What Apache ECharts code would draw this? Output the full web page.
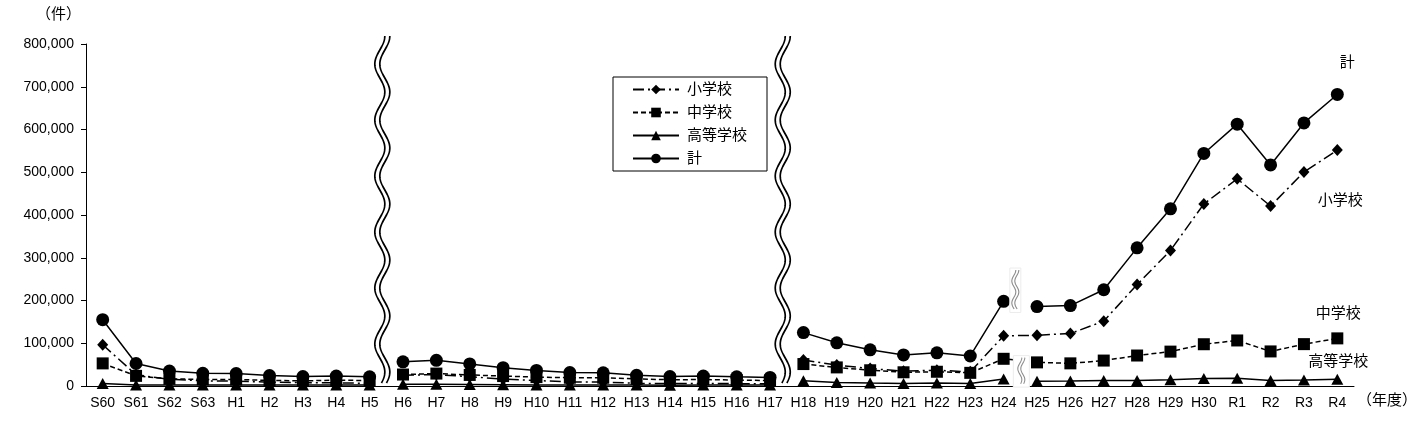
<!DOCTYPE html>
<html lang="ja">
<head>
    <meta charset="UTF-8">
    <title>いじめの認知件数</title>
    <script src="https://cdn.jsdelivr.net/npm/echarts@6/dist/echarts.min.js"></script>
    <style>
        html, body { margin: 0; padding: 0; background: #fff; }
        #main { width: 1422px; height: 429px; }
    </style>
</head>
<body>
<div id="main"></div>

<script type="text/javascript">
    // 年度
    var categories = ['S60', 'S61', 'S62', 'S63', 'H1', 'H2', 'H3', 'H4', 'H5',
        'H6', 'H7', 'H8', 'H9', 'H10', 'H11', 'H12', 'H13', 'H14', 'H15', 'H16', 'H17',
        'H18', 'H19', 'H20', 'H21', 'H22', 'H23', 'H24', 'H25', 'H26', 'H27', 'H28', 'H29', 'H30',
        'R1', 'R2', 'R3', 'R4'];

    var elementary = [96457, 26306, 15727, 12122, 11350, 9035, 7718, 7300, 6390,
        25295, 26614, 21733, 16294, 12858, 9462, 9114, 6206, 5659, 6051, 5551, 5087,
        60897, 48896, 40807, 34766, 36909, 33124, 117384, 118748, 122734, 151692, 237256, 317121, 425844,
        484545, 420897, 500562, 551944];

    var middle = [52891, 23690, 16796, 15452, 15215, 13121, 11922, 13632, 12817,
        26828, 29069, 25862, 23234, 20801, 19383, 19371, 16635, 14562, 15159, 13915, 12794,
        51310, 43505, 36795, 32111, 33323, 30749, 63634, 55248, 52971, 59502, 71309, 80424, 97704,
        106524, 80877, 97937, 111404];

    var high = [5718, 2614, 2544, 2212, 2523, 2152, 2422, 2326, 2391,
        4253, 4184, 3771, 3103, 2576, 2391, 2327, 2119, 1906, 2070, 2121, 2191,
        12307, 8355, 6737, 5642, 7018, 6020, 16274, 11039, 11404, 12664, 12874, 14789, 17709,
        18352, 13126, 14157, 15568];

    var total = [155066, 52610, 35067, 29786, 29088, 24308, 22062, 23258, 21598,
        56601, 60096, 51544, 42790, 36396, 31359, 30918, 25037, 22205, 23351, 21671, 20143,
        124898, 101097, 84648, 72778, 77630, 70231, 198109, 185803, 188072, 225132, 323143, 414378, 543933,
        612496, 517163, 615351, 681948];

    // 線を切る位置（各区間の先頭）
    var segmentStarts = [0, 9, 21];
    // H24とH25の間でも切る系列
    var breakAtH25 = ['高等学校', '計'];

    var yTicks = [0, 100000, 200000, 300000, 400000, 500000, 600000, 700000, 800000];

    var FONT = "'Liberation Sans', 'Noto Sans CJK JP', sans-serif";

    var seriesDefs = [
        {name: '小学校', data: elementary, symbol: 'diamond', size: [11, 12], dash: [11, 4, 2, 4], label: [3, 51]},
        {name: '中学校', data: middle, symbol: 'rect', size: 12, dash: [5, 3], label: [1, -25]},
        {name: '高等学校', data: high, symbol: 'triangle', size: [12, 11], dash: 'solid', label: [1, -17]},
        {name: '計', data: total, symbol: 'circle', size: 13, dash: 'solid', label: [10, -32]}
    ];

    var last = categories.length - 1;
    var h25 = categories.indexOf('H25');
    var series = [];
    seriesDefs.forEach(function (def) {
        var starts = segmentStarts.slice();
        if (breakAtH25.indexOf(def.name) >= 0) starts.push(h25);
        for (var s = 0; s < starts.length; s++) {
            var from = starts[s];
            var to = s + 1 < starts.length ? starts[s + 1] : categories.length;
            var seg = def.data.map(function (v, i) {
                return (i >= from && i < to) ? v : null;
            });
            var isLast = (to === categories.length);
            series.push({
                name: def.name,
                type: 'line',
                data: seg,
                connectNulls: false,
                symbol: def.symbol,
                symbolSize: def.size,
                itemStyle: {color: '#000'},
                lineStyle: {color: '#000', width: 1.5, type: def.dash},
                label: {
                    show: isLast,
                    position: 'inside',
                    offset: def.label,
                    color: '#000',
                    fontSize: 15,
                    fontFamily: FONT,
                    formatter: function (p) {
                        return p.dataIndex === last ? def.name : '';
                    }
                },
                emphasis: {disabled: true},
                z: 3
            });
        }
    });

    var chart = echarts.init(document.getElementById('main'));
    var option = {
        animation: false,
        backgroundColor: '#fff',
        textStyle: {fontFamily: FONT, color: '#000'},
        grid: {left: 86, right: 68, top: 44, bottom: 43, containLabel: false},
        legend: {
            data: ['小学校', '中学校', '高等学校', '計'],
            orient: 'vertical',
            left: 613,
            top: 77,
            itemWidth: 46,
            itemHeight: 12,
            itemGap: 8,
            padding: [5, 20, 5, 19],
            borderColor: '#000',
            borderWidth: 1,
            textStyle: {fontSize: 15, lineHeight: 12, color: '#000', fontFamily: FONT, padding: [0, 0, 0, 3]},
            selectedMode: false
        },
        xAxis: {
            type: 'category',
            data: categories,
            boundaryGap: true,
            axisLine: {lineStyle: {color: '#000', width: 1}},
            axisTick: {inside: true, length: 5, lineStyle: {color: '#000'}},
            axisLabel: {color: '#000', fontSize: 14, margin: 10, interval: 0, fontFamily: FONT}
        },
        yAxis: {
            type: 'value',
            min: yTicks[0],
            max: yTicks[yTicks.length - 1],
            interval: yTicks[1] - yTicks[0],
            axisLine: {show: true, lineStyle: {color: '#000', width: 1}},
            axisTick: {show: true, length: 5, lineStyle: {color: '#000'}},
            splitLine: {show: false},
            axisLabel: {
                color: '#000', fontSize: 14, margin: 12, fontFamily: FONT,
                formatter: function (v) { return v.toLocaleString('en-US'); }
            }
        },
        series: series
    };
    chart.setOption(option);

    // 波線（省略記号）
    function wavePoints(xc, y0, y1, amp, period) {
        var pts = [];
        for (var y = y0; y <= y1; y += 1) {
            pts.push([xc + amp * Math.cos(2 * Math.PI * (y - y0) / period), y]);
        }
        return pts;
    }

    function doubleWave(xc, y0, y1, amp, period, gap, color, width) {
        return [-gap / 2, gap / 2].map(function (d) {
            return {
                type: 'polyline',
                z: 100,
                silent: true,
                shape: {points: wavePoints(xc + d, y0, y1, amp, period)},
                style: {stroke: color, lineWidth: width, fill: null}
            };
        });
    }

    function midX(i) {
        var a = chart.convertToPixel({xAxisIndex: 0}, categories[i - 1]);
        var b = chart.convertToPixel({xAxisIndex: 0}, categories[i]);
        return (a + b) / 2;
    }

    function py(v) {
        return chart.convertToPixel({yAxisIndex: 0}, v);
    }

    var graphics = [];
    var yTop = py(yTicks[yTicks.length - 1]) - 8;
    var yBottom = py(0) - 3;
    [segmentStarts[1], segmentStarts[2]].forEach(function (i) {
        graphics = graphics.concat(doubleWave(midX(i) - 4, yTop, yBottom, 5, 56, 5, '#000', 1.7));
    });

    // H24とH25の間の小さな省略記号
    var breaks = [
        {dx: -5, w: 11, from: 276000, to: 172000},
        {dx: 1, w: 16, from: 71000, to: -2500}
    ];
    breaks.forEach(function (b) {
        var xc = midX(h25) + b.dx;
        var y0 = py(b.from), y1 = py(b.to);
        graphics.push({
            type: 'rect',
            z: 99,
            silent: true,
            shape: {x: xc - b.w / 2, y: y0, width: b.w, height: y1 - y0},
            style: {fill: '#fff', stroke: '#ececec', lineWidth: 1}
        });
        graphics = graphics.concat(doubleWave(xc, y0 + 2, y1 - 3, 2, 22, 3, '#8c8c8c', 1.1));
    });

    graphics.push({
        type: 'text', left: 36, top: 7, z: 100,
        style: {text: '（件）', fontSize: 15, fill: '#000', fontFamily: FONT}
    });
    graphics.push({
        type: 'text', left: 1357, top: 393, z: 100,
        style: {text: '（年度）', fontSize: 15, fill: '#000', fontFamily: FONT}
    });

    chart.setOption({graphic: graphics});
</script>

</body>
</html>
